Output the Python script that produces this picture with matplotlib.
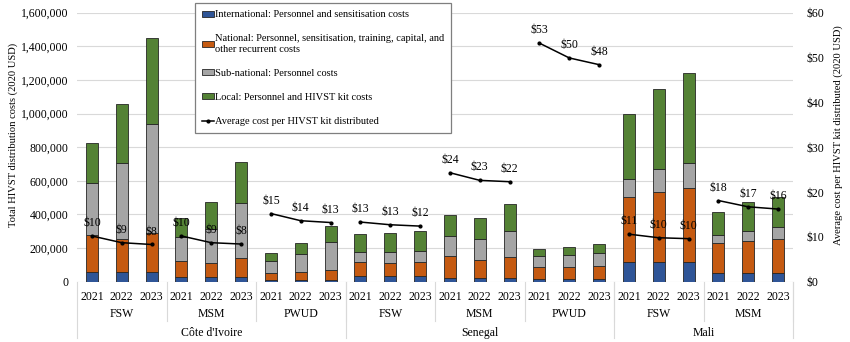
import matplotlib
matplotlib.use('Agg')
import matplotlib.pyplot as plt
import matplotlib.transforms as mtransforms
from matplotlib.ticker import FuncFormatter
from matplotlib.patches import Patch
from matplotlib.lines import Line2D

plt.rcParams['font.family'] = ['Liberation Serif', 'DejaVu Serif']

years = ['2021', '2022', '2023']
countries = ["Côte d'Ivoire", 'Senegal', 'Mali']
populations = [['FSW', 'MSM', 'PWUD'], ['FSW', 'MSM', 'PWUD'], ['FSW', 'MSM']]

# cost components per bar (2020 USD), ordered country > population > year
international = [60000, 60000, 60000, 28000, 28000, 28000, 12000, 12000, 12000,
                 34000, 34000, 34000, 24000, 24000, 24000, 14000, 14000, 14000,
                 115000, 115000, 115000, 50000, 50000, 50000]
national = [220000, 192000, 228000, 95000, 81000, 113000, 42000, 46000, 59000,
            83000, 77000, 83000, 127000, 105000, 125000, 73000, 73000, 78000,
            387000, 419000, 442000, 178000, 190000, 202000]
subnational = [305000, 452000, 650000, 141000, 207000, 325000, 71000, 109000, 163000,
               62000, 64000, 67000, 121000, 123000, 154000, 64000, 70000, 77000,
               111000, 138000, 151000, 50000, 63000, 72000]
local = [238000, 355000, 510000, 113000, 160000, 248000, 44000, 63000, 96000,
         105000, 115000, 119000, 127000, 129000, 159000, 42000, 48000, 55000,
         385000, 476000, 532000, 135000, 171000, 182000]
avg_cost = [10.2, 8.7, 8.3, 10.2, 8.7, 8.4, 15.2, 13.6, 13.2,
            13.3, 12.7, 12.4, 24.3, 22.6, 22.3, 53.2, 49.9, 48.4,
            10.6, 9.8, 9.6, 18.1, 16.7, 16.2]

labels = ['International: Personnel and sensitisation costs',
          'National: Personnel, sensitisation, training, capital, and\nother recurrent costs',
          'Sub-national: Personnel costs',
          'Local: Personnel and HIVST kit costs',
          'Average cost per HIVST kit distributed']
colors = ['#2F5597', '#C55A11', '#A5A5A5', '#548235']

fig = plt.figure(figsize=(8.5, 3.42), dpi=100)
ax = fig.add_axes([0.0906, 0.1763, 0.8424, 0.7867])
ax2 = ax.twinx()

x = list(range(len(avg_cost)))
bottom = [0] * len(x)
for vals, c in zip([international, national, subnational, local], colors):
    ax.bar(x, vals, 0.4, bottom=bottom, color=c, edgecolor='#262626', linewidth=0.6, zorder=3)
    bottom = [b + v for b, v in zip(bottom, vals)]

# one line per population group
for i in range(0, len(x), 3):
    ax2.plot(x[i:i + 3], avg_cost[i:i + 3], color='black', lw=1.1, marker='o', ms=2)
    for xi, v in zip(x[i:i + 3], avg_cost[i:i + 3]):
        ax2.annotate('$%d' % round(v), (xi, v), xytext=(0, 5), textcoords='offset points',
                     ha='center', va='bottom', fontsize=8.5)

ax.set_xlim(-0.5, len(x) - 0.5)
ax.set_ylim(0, 1600000)
ax.set_yticks(range(0, 1600001, 200000))
ax.yaxis.set_major_formatter(FuncFormatter(lambda v, p: '{:,.0f}'.format(v)))
ax2.set_ylim(0, 60)
ax2.set_yticks(range(0, 61, 10))
ax2.yaxis.set_major_formatter(FuncFormatter(lambda v, p: '$%d' % v))

ax.grid(axis='y', color='#D9D9D9', lw=0.8)
ax.set_axisbelow(True)
ax.set_xticks([])
for a in (ax, ax2):
    for s in a.spines.values():
        s.set_visible(False)
    a.tick_params(length=0, labelsize=8.5)
ax.tick_params(axis='y', pad=6)
ax2.tick_params(axis='y', pad=10)

ax.set_ylabel('Total HIVST distribution costs (2020 USD)', fontsize=7.6)
ax2.set_ylabel('Average cost per HIVST kit distributed (2020 USD)', fontsize=7.6)
ax.yaxis.set_label_coords(-0.083, 0.545)
ax2.yaxis.set_label_coords(1.056, 0.545)

# multi-level category axis
trans = mtransforms.blended_transform_factory(ax.transData, ax.transAxes)
sep = dict(color='#D9D9D9', lw=0.8, transform=trans, clip_on=False)
for xi, yr in zip(x, years * 8):
    ax.text(xi, -0.055, yr, transform=trans, ha='center', va='center', fontsize=8.5)
pos = 0
ax.plot([-0.5, -0.5], [0, -0.21], **sep)
for country, pops in zip(countries, populations):
    start = pos
    for p in pops:
        ax.text(pos + 1, -0.12, p, transform=trans, ha='center', va='center', fontsize=8.5)
        pos += 3
        ax.plot([pos - 0.5, pos - 0.5], [0, -0.145], **sep)
    ax.plot([pos - 0.5, pos - 0.5], [0, -0.21], **sep)
    ax.text((start + pos - 1) / 2, -0.19, country, transform=trans, ha='center', va='center',
            fontsize=8.5)

handles = [Patch(facecolor=c, edgecolor='#262626', linewidth=0.6) for c in colors]
handles.append(Line2D([], [], color='black', lw=1.1, marker='o', ms=2))
leg = ax2.legend(handles, labels, loc='upper left', bbox_to_anchor=(0.165, 1.036),
                 fontsize=7.5, frameon=True, fancybox=False, framealpha=1,
                 edgecolor='#7F7F7F', handlelength=1.1, handleheight=0.5,
                 handletextpad=0.1, labelspacing=1.45, borderpad=0.7, borderaxespad=0)
leg.get_frame().set_linewidth(0.9)
leg.set_zorder(10)

fig.savefig('out.png', dpi=100)
